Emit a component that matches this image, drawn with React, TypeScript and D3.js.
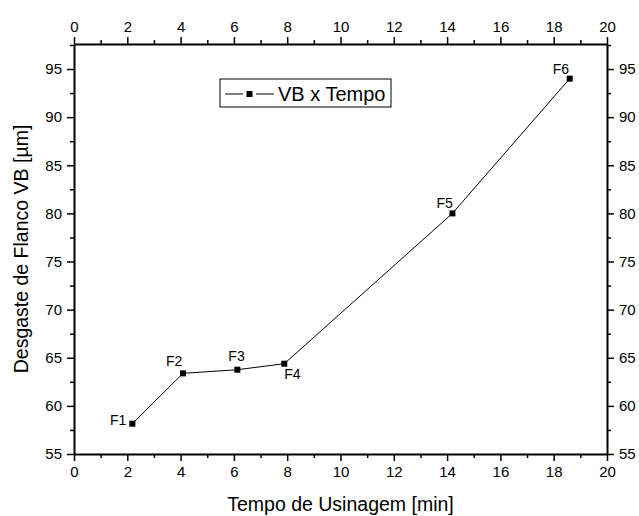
import React, { useEffect, useRef } from "react";
import * as d3 from "d3";

// wear measurements F1..F6
const labels = ["F1", "F2", "F3", "F4", "F5", "F6"];
const tempo = [2.19, 4.09, 6.13, 7.89, 14.2, 18.6];
const desgaste = [58.15, 63.38, 63.76, 64.38, 80.0, 94.0];

const xTicks = [0, 2, 4, 6, 8, 10, 12, 14, 16, 18, 20];
const yTicks = [55, 60, 65, 70, 75, 80, 85, 90, 95];

// where each point label sits relative to its marker [dx, dy, anchor]
const labelPlacement: [number, number, string][] = [
  [-6, 1, "end"],
  [-17, -7, "start"],
  [-9, -9, "start"],
  [0, 15, "start"],
  [-16, -5, "start"],
  [-17, -5, "start"],
];

const W = 639;
const H = 516;
const margin = { top: 44, right: 32, bottom: 62, left: 74 };
const FONT = "'Liberation Sans', Arial, sans-serif";

export default function App() {
  const ref = useRef<SVGSVGElement>(null);

  useEffect(() => {
    const svg = d3.select(ref.current);
    svg.selectAll("*").remove();
    const innerW = W - margin.left - margin.right;
    const innerH = H - margin.top - margin.bottom;

    const x = d3.scaleLinear().domain([0, 20]).range([0, innerW]);
    const y = d3.scaleLinear().domain([55, 97.6]).range([innerH, 0]);

    const g = svg.append("g").attr("transform", `translate(${margin.left},${margin.top})`);

    const minorX = d3.range(1, 20, 2);
    const minorY = d3.range(57.5, 97.6, 5);

    // draws an axis with major + minor ticks, styled like Origin
    const drawAxis = (axisFn: any, scale: any, major: number[], minor: number[], tf: string, labelsOn: boolean) => {
      const ag = g.append("g").attr("transform", tf);
      ag.call(
        axisFn(scale).tickValues(major).tickSize(7).tickSizeOuter(0).tickPadding(5)
          .tickFormat(labelsOn ? d3.format("d") : () => "")
      );
      ag.append("g").call(axisFn(scale).tickValues(minor).tickSize(4).tickSizeOuter(0).tickFormat(() => ""))
        .select(".domain").remove();
      ag.selectAll(".domain").attr("stroke-width", 2);
      ag.selectAll(".tick line").attr("stroke-width", 1.5);
      ag.selectAll("text").attr("font-size", 15).attr("font-family", FONT).attr("fill", "#000");
      return ag;
    };

    drawAxis(d3.axisBottom, x, xTicks, minorX, `translate(0,${innerH})`, true);
    drawAxis(d3.axisTop, x, xTicks, minorX, "translate(0,0)", true);
    drawAxis(d3.axisLeft, y, yTicks, minorY, "translate(0,0)", true);
    drawAxis(d3.axisRight, y, yTicks, minorY, `translate(${innerW},0)`, true);

    // data line
    const pts = tempo.map((t, i) => [x(t), y(desgaste[i])] as [number, number]);
    g.append("path")
      .attr("d", d3.line()(pts))
      .attr("fill", "none")
      .attr("stroke", "#000")
      .attr("stroke-width", 1);

    g.selectAll("rect.pt")
      .data(pts)
      .enter()
      .append("rect")
      .attr("x", (d) => d[0] - 3)
      .attr("y", (d) => d[1] - 3)
      .attr("width", 6)
      .attr("height", 6)
      .attr("fill", "#000");

    g.selectAll("text.lbl")
      .data(pts)
      .enter()
      .append("text")
      .attr("x", (d, i) => d[0] + labelPlacement[i][0])
      .attr("y", (d, i) => d[1] + labelPlacement[i][1])
      .attr("text-anchor", (d, i) => labelPlacement[i][2])
      .attr("font-size", 14)
      .attr("font-family", FONT)
      .text((d, i) => labels[i]);

    // legend
    const lg = svg.append("g").attr("transform", "translate(220,79)");
    lg.append("rect").attr("width", 171).attr("height", 28).attr("fill", "#fff").attr("stroke", "#000").attr("stroke-width", 1);
    lg.append("line").attr("x1", 5).attr("x2", 23).attr("y1", 15).attr("y2", 15).attr("stroke", "#000");
    lg.append("line").attr("x1", 36).attr("x2", 54).attr("y1", 15).attr("y2", 15).attr("stroke", "#000");
    lg.append("rect").attr("x", 26.5).attr("y", 12).attr("width", 6).attr("height", 6).attr("fill", "#000");
    lg.append("text").attr("x", 58).attr("y", 22).attr("font-size", 20).attr("font-family", FONT).text("VB x Tempo");

    // axis titles
    svg.append("text")
      .attr("x", margin.left + innerW / 2)
      .attr("y", 511)
      .attr("text-anchor", "middle")
      .attr("font-size", 19.5)
      .attr("font-family", FONT)
      .text("Tempo de Usinagem [min]");

    svg.append("text")
      .attr("transform", `translate(28,${margin.top + innerH / 2}) rotate(-90)`)
      .attr("text-anchor", "middle")
      .attr("font-size", 19.5)
      .attr("font-family", FONT)
      .text("Desgaste de Flanco VB [\u00b5m]");
  }, []);

  return (
    <svg
      ref={ref}
      width={W}
      height={H}
      style={{ position: "absolute", left: 0, top: 0, background: "#fff" }}
    />
  );
}
